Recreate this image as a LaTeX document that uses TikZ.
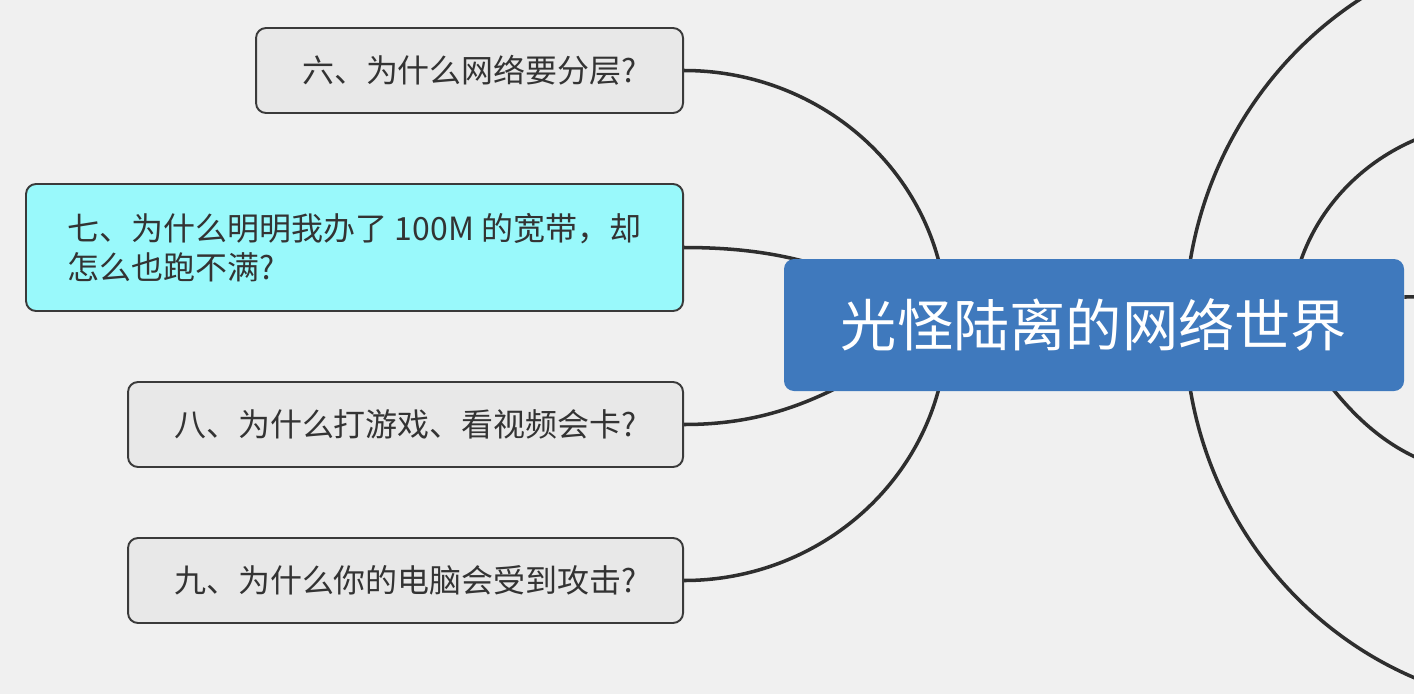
\documentclass[tikz,border=0pt]{standalone}
\usepackage{fontspec}
\newfontfamily\cjkfont{Noto Sans CJK SC}
\usetikzlibrary{backgrounds}
\usepackage{xcolor}
\definecolor{rootblue}{HTML}{3F79BD}
\definecolor{pagegrey}{HTML}{F0F0F0}
\definecolor{boxgrey}{HTML}{E8E8E8}
\definecolor{boxcyan}{HTML}{99F9FB}
\definecolor{boxline}{HTML}{3A3A3A}
\definecolor{textgrey}{HTML}{333333}
\definecolor{linegrey}{HTML}{2E2E2E}

\begin{document}
\begin{tikzpicture}[
    rootbox/.style = {rectangle, fill=rootblue, rounded corners=0.2cm, text=white, font=\cjkfont\fontsize{32}{38}\selectfont, minimum width=12.4cm, minimum height=2.64cm, inner sep=0pt},
    topicbox/.style = {rectangle, draw=boxline, fill=boxgrey, line width=1.1pt, rounded corners=0.2cm, text=textgrey, font=\cjkfont\fontsize{18.2}{22.5}\selectfont, minimum height=1.7cm, inner sep=0pt, anchor=east},
    branch/.style = {draw=linegrey, line width=2pt}
]
\useasboundingbox (0,0) rectangle (28.28,-13.88);

% Central topic
\node (t_root) [rootbox] at (21.88, -6.5) {光怪陆离的网络世界};

% Topic: six
\node (t_six) [topicbox, minimum width=8.54cm] at (13.68, -1.41) {六、为什么网络要分层?};

% Topic: seven
\node (t_seven) [topicbox, fill=boxcyan, minimum width=13.14cm, minimum height=2.54cm, align=left] at (13.68, -4.95) {七、为什么明明我办了 100M 的宽带，却\\怎么也跑不满?};

% Topic: eight
\node (t_eight) [topicbox, minimum width=11.1cm] at (13.68, -8.49) {八、为什么打游戏、看视频会卡?};

% Topic: nine
\node (t_nine) [topicbox, minimum width=11.1cm] at (13.68, -11.61) {九、为什么你的电脑会受到攻击?};

% Branch hubs and topics beyond the page
\coordinate (hub_left) at ([xshift=-2.94cm]t_root.center);
\coordinate (hub_right) at ([xshift=1.82cm]t_root.center);
\coordinate (hub_inner) at ([xshift=3.92cm]t_root.center);
\coordinate (t_off1) at (31.2, 1.2);
\coordinate (t_off2) at (30.0, -2.45);
\coordinate (t_off3) at (31.2, -5.7);
\coordinate (t_off4) at (30.0, -9.5);
\coordinate (t_off5) at (31.2, -14.15);

% Connections
\begin{scope}[on background layer]
\fill [pagegrey] (0,0) rectangle (28.28,-13.88);
\clip (0,0) rectangle (28.28,-13.88);
\draw [branch] (t_six.east) to[out=0, in=90] (hub_left);
\draw [branch] (t_seven.east) to[out=0, in=150] (hub_left);
\draw [branch] (t_eight.east) to[out=0, in=-150] (hub_left);
\draw [branch] (t_nine.east) to[out=0, in=-90] (hub_left);
\draw [branch] (hub_right) to[out=90, in=180] (t_off1);
\draw [branch] (hub_inner) to[out=90, in=180] (t_off2);
\draw [branch] ([yshift=0.56cm]t_root.east) to[out=0, in=180] (t_off3);
\draw [branch] (hub_inner) to[out=-60, in=180] (t_off4);
\draw [branch] (hub_right) to[out=-90, in=180] (t_off5);
\end{scope}

\end{tikzpicture}
\end{document}
